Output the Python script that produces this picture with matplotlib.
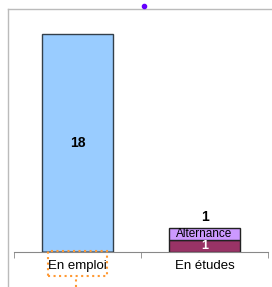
import matplotlib.pyplot as plt
from matplotlib.patches import Rectangle
from matplotlib.lines import Line2D

categories = ["En emploi", "En études"]
emploi_values = [18, 0]
etudes_values = [0, 1]
alternance_values = [0, 1]

plt.rcParams['font.family'] = ['Liberation Sans', 'DejaVu Sans']

fig = plt.figure(figsize=(2.72, 2.87), dpi=100)
ax = fig.add_axes([14/272, 35/287, 254/272, 242/287])

x = range(len(categories))
w = 0.56
ax.bar(x, emploi_values, width=w, color='#99CCFF', edgecolor='#333f4a', linewidth=1)
ax.bar(x, etudes_values, width=w, color='#993366', edgecolor='#222222', linewidth=1)
ax.bar(x, alternance_values, width=w, bottom=etudes_values, color='#CC99FF',
       edgecolor='#222222', linewidth=1)

ax.text(0, emploi_values[0] / 2, str(emploi_values[0]), ha='center', va='center',
        fontsize=10, fontweight='bold')
ax.text(1, etudes_values[1] / 2, str(etudes_values[1]), ha='center', va='center',
        fontsize=9, fontweight='bold', color='white')
ax.text(1, etudes_values[1] + alternance_values[1] / 2, "Alternance", ha='center',
        va='center', fontsize=8.5)
ax.text(1, etudes_values[1] + alternance_values[1] + 0.35, str(alternance_values[1]),
        ha='center', va='bottom', fontsize=10, fontweight='bold')

ax.set_xlim(-0.5, 1.5)
ax.set_ylim(0, 20)
ax.set_yticks([])
ax.set_xticks(list(x))
ax.set_xticklabels(categories, fontsize=9.5)
ax.set_xticks([-0.5, 0.5, 1.5], minor=True)
ax.tick_params(axis='x', which='major', length=0, pad=6)
ax.tick_params(axis='x', which='minor', length=4, color='#888888')
for s in ['top', 'left', 'right']:
    ax.spines[s].set_visible(False)
ax.spines['bottom'].set_color('#888888')

# outer gray frame
fig.add_artist(Line2D([8/272, 8/272], [0, 1 - 9/287], color='#bbbbbb', lw=1))
fig.add_artist(Line2D([8/272, 1], [1 - 9/287, 1 - 9/287], color='#bbbbbb', lw=1))
fig.add_artist(Line2D([144/272], [1 - 6/287], marker='o', markersize=3,
                      color='#6600ff', lw=0))

# dotted selection box around first label
fig.add_artist(Rectangle((48/272, 1 - 276/287), 59/272, 25/287, fill=False,
                         edgecolor='#ff9933', linestyle=':', lw=1.5))
fig.add_artist(Line2D([76/272, 76/272], [0, 1 - 276/287], color='#ff9933',
                      linestyle=':', lw=1.5))

fig.savefig('out.png', dpi=100)
